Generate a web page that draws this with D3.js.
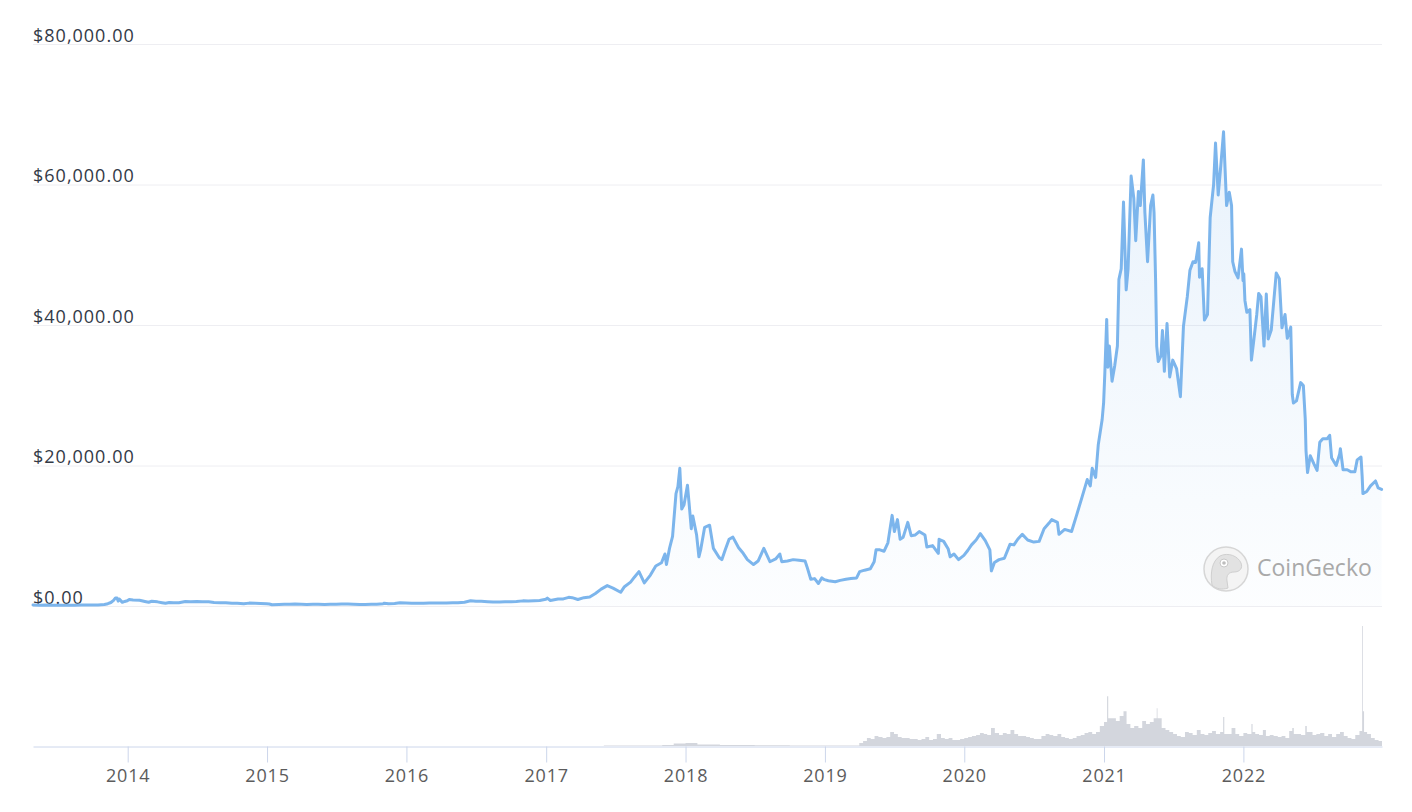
<!DOCTYPE html>
<html>
<head>
<meta charset="utf-8">
<script src="https://cdn.jsdelivr.net/npm/d3@7"></script>
<style>
  body { margin: 0; background: #fff; }
  svg { display: block; }
  svg text { font-family: "Open Sans", "Noto Sans", sans-serif; }
  .grid line { stroke: #eeeef2; }
  .grid .domain { display: none; }
  .ylab text { fill: #333a47; font-size: 18px; letter-spacing: 1px; }
  .xaxis .domain { stroke: #ccd6eb; }
  .xaxis line { stroke: #ccd6eb; }
  .xaxis text { fill: #5c5c5c; font-size: 18px; letter-spacing: 0.8px; }
</style>
</head>
<body>
<div id="chart"></div>
<script>
"use strict";
// btc price (usd)
var pricePoints = [
  ["2013-04-28", 135], ["2013-05-15", 115], ["2013-06-01", 129], ["2013-06-15", 100], ["2013-07-01", 90],
  ["2013-07-15", 98], ["2013-08-01", 106], ["2013-08-15", 98], ["2013-09-01", 140], ["2013-09-15", 126],
  ["2013-10-01", 125], ["2013-10-15", 148], ["2013-11-01", 205], ["2013-11-10", 330], ["2013-11-18", 500],
  ["2013-11-25", 800], ["2013-11-30", 1150], ["2013-12-04", 1140], ["2013-12-07", 700], ["2013-12-10", 980],
  ["2013-12-18", 520], ["2013-12-24", 650], ["2013-12-31", 750],
  ["2014-01-05", 930], ["2014-01-15", 850], ["2014-02-01", 830], ["2014-02-15", 650], ["2014-02-25", 530],
  ["2014-03-05", 670], ["2014-03-20", 590], ["2014-04-01", 470], ["2014-04-10", 380], ["2014-04-20", 500],
  ["2014-05-01", 450], ["2014-05-15", 450], ["2014-06-01", 630], ["2014-06-15", 590], ["2014-07-01", 640],
  ["2014-07-15", 620], ["2014-08-01", 590], ["2014-08-15", 500], ["2014-09-01", 480], ["2014-09-15", 470],
  ["2014-10-01", 380], ["2014-10-15", 390], ["2014-11-01", 320], ["2014-11-15", 410], ["2014-12-01", 380],
  ["2014-12-15", 350], ["2014-12-31", 320],
  ["2015-01-07", 290], ["2015-01-14", 180], ["2015-02-01", 230], ["2015-02-15", 240], ["2015-03-01", 260],
  ["2015-03-15", 285], ["2015-04-01", 245], ["2015-04-15", 220], ["2015-05-01", 235], ["2015-05-15", 237],
  ["2015-06-01", 225], ["2015-06-15", 236], ["2015-07-01", 260], ["2015-07-15", 285], ["2015-08-01", 280],
  ["2015-08-15", 260], ["2015-09-01", 230], ["2015-09-15", 230], ["2015-10-01", 237], ["2015-10-15", 255],
  ["2015-11-01", 315], ["2015-11-04", 400], ["2015-11-15", 330], ["2015-12-01", 360], ["2015-12-15", 450],
  ["2015-12-31", 430],
  ["2016-01-15", 390], ["2016-02-01", 375], ["2016-02-15", 405], ["2016-03-01", 430], ["2016-03-15", 415],
  ["2016-04-01", 415], ["2016-04-15", 430], ["2016-05-01", 450], ["2016-05-15", 455], ["2016-06-01", 535],
  ["2016-06-17", 750], ["2016-07-01", 675], ["2016-07-15", 665], ["2016-08-01", 620], ["2016-08-15", 570],
  ["2016-09-01", 575], ["2016-09-15", 608], ["2016-10-01", 610], ["2016-10-15", 640], ["2016-11-01", 730],
  ["2016-11-15", 710], ["2016-12-01", 750], ["2016-12-15", 780], ["2016-12-31", 960],
  ["2017-01-04", 1130], ["2017-01-12", 780], ["2017-02-01", 990], ["2017-02-15", 1010], ["2017-03-01", 1230],
  ["2017-03-10", 1190], ["2017-03-25", 930], ["2017-04-10", 1190], ["2017-04-25", 1280], ["2017-05-10", 1780],
  ["2017-05-25", 2400], ["2017-06-10", 2900], ["2017-06-25", 2550], ["2017-07-15", 1950], ["2017-07-25", 2750],
  ["2017-08-10", 3400], ["2017-08-20", 4100], ["2017-09-01", 4900], ["2017-09-15", 3300], ["2017-10-01", 4400],
  ["2017-10-15", 5700], ["2017-10-30", 6150], ["2017-11-08", 7400], ["2017-11-12", 5900], ["2017-11-20", 8200],
  ["2017-11-28", 9900], ["2017-12-07", 16000], ["2017-12-12", 17000], ["2017-12-17", 19600], ["2017-12-22", 13800],
  ["2017-12-28", 14400],
  ["2018-01-06", 17200], ["2018-01-10", 14800], ["2018-01-16", 11000], ["2018-01-20", 12800], ["2018-01-30", 10100],
  ["2018-02-05", 7000], ["2018-02-10", 8100], ["2018-02-20", 11200], ["2018-03-05", 11500], ["2018-03-15", 8200],
  ["2018-03-30", 6900], ["2018-04-06", 6600], ["2018-04-15", 8000], ["2018-04-25", 9500], ["2018-05-05", 9800],
  ["2018-05-20", 8300], ["2018-06-01", 7500], ["2018-06-12", 6600], ["2018-06-28", 5900], ["2018-07-10", 6400],
  ["2018-07-25", 8200], ["2018-08-10", 6300], ["2018-08-25", 6700], ["2018-09-05", 7400], ["2018-09-10", 6300],
  ["2018-09-25", 6400], ["2018-10-10", 6600], ["2018-10-25", 6500], ["2018-11-10", 6400], ["2018-11-15", 5600],
  ["2018-11-25", 3800], ["2018-12-05", 3900], ["2018-12-15", 3200], ["2018-12-24", 4000], ["2018-12-31", 3750],
  ["2019-01-10", 3600], ["2019-01-28", 3450], ["2019-02-10", 3650], ["2019-02-25", 3800], ["2019-03-10", 3900],
  ["2019-03-25", 4000], ["2019-04-02", 4900], ["2019-04-15", 5100], ["2019-04-30", 5300], ["2019-05-10", 6300],
  ["2019-05-15", 8000], ["2019-05-25", 8000], ["2019-06-05", 7800], ["2019-06-15", 9000], ["2019-06-26", 12900],
  ["2019-07-02", 10600], ["2019-07-10", 12300], ["2019-07-17", 9500], ["2019-07-25", 9800], ["2019-08-06", 11900],
  ["2019-08-15", 10000], ["2019-08-25", 10100], ["2019-09-05", 10600], ["2019-09-20", 10100], ["2019-09-25", 8400],
  ["2019-10-10", 8600], ["2019-10-25", 7500], ["2019-10-27", 9500], ["2019-11-08", 9200], ["2019-11-20", 8100],
  ["2019-11-25", 7000], ["2019-12-05", 7400], ["2019-12-17", 6600], ["2019-12-31", 7200],
  ["2020-01-10", 7900], ["2020-01-20", 8700], ["2020-02-01", 9400], ["2020-02-12", 10300], ["2020-02-25", 9300],
  ["2020-03-08", 8000], ["2020-03-12", 5000], ["2020-03-20", 6200], ["2020-04-01", 6600], ["2020-04-15", 6800],
  ["2020-04-30", 8800], ["2020-05-10", 8700], ["2020-05-20", 9500], ["2020-06-01", 10200], ["2020-06-15", 9400],
  ["2020-07-01", 9100], ["2020-07-15", 9200], ["2020-07-28", 11000], ["2020-08-10", 11800], ["2020-08-17", 12300],
  ["2020-09-01", 11900], ["2020-09-05", 10200], ["2020-09-20", 10900], ["2020-10-08", 10600], ["2020-10-21", 12900],
  ["2020-11-05", 15600], ["2020-11-18", 18000], ["2020-11-26", 17100], ["2020-12-01", 19600], ["2020-12-10", 18300],
  ["2020-12-17", 23000], ["2020-12-27", 26500], ["2020-12-31", 29000],
  ["2021-01-03", 33000], ["2021-01-08", 40800], ["2021-01-11", 34000], ["2021-01-15", 37000], ["2021-01-22", 32000],
  ["2021-01-29", 34200], ["2021-02-05", 37000], ["2021-02-09", 46500], ["2021-02-15", 48000], ["2021-02-21", 57500],
  ["2021-02-28", 45000], ["2021-03-05", 48000], ["2021-03-13", 61200], ["2021-03-20", 58000], ["2021-03-25", 52000],
  ["2021-04-01", 59000], ["2021-04-06", 57000], ["2021-04-14", 63500], ["2021-04-18", 56000], ["2021-04-25", 49000],
  ["2021-05-03", 57000], ["2021-05-09", 58500], ["2021-05-12", 56000], ["2021-05-16", 46500], ["2021-05-19", 37000],
  ["2021-05-23", 34800], ["2021-05-30", 35600], ["2021-06-03", 39200], ["2021-06-08", 33400], ["2021-06-15", 40200],
  ["2021-06-22", 32600], ["2021-06-30", 35000], ["2021-07-10", 33800], ["2021-07-20", 29800], ["2021-07-28", 39800],
  ["2021-08-07", 44000], ["2021-08-14", 47800], ["2021-08-22", 49000], ["2021-08-29", 48900], ["2021-09-06", 51700],
  ["2021-09-08", 46800], ["2021-09-15", 48000], ["2021-09-21", 40700], ["2021-09-29", 41500], ["2021-10-06", 55300],
  ["2021-10-15", 60000], ["2021-10-20", 65900], ["2021-10-27", 58500], ["2021-11-03", 62800], ["2021-11-10", 67500],
  ["2021-11-18", 57000], ["2021-11-25", 58900], ["2021-12-01", 57000], ["2021-12-04", 49000], ["2021-12-10", 47600],
  ["2021-12-18", 46700], ["2021-12-27", 50800], ["2021-12-31", 46300],
  ["2022-01-02", 47300], ["2022-01-05", 43500], ["2022-01-10", 41800], ["2022-01-18", 42200], ["2022-01-22", 35000],
  ["2022-01-28", 37700], ["2022-02-05", 41500], ["2022-02-10", 44500], ["2022-02-16", 44000], ["2022-02-24", 37000],
  ["2022-03-02", 44400], ["2022-03-07", 38000], ["2022-03-15", 39300], ["2022-03-28", 47400], ["2022-04-05", 46600],
  ["2022-04-12", 39600], ["2022-04-20", 41500], ["2022-04-26", 38100], ["2022-05-05", 39700], ["2022-05-09", 30100],
  ["2022-05-12", 28900], ["2022-05-20", 29200], ["2022-05-31", 31800], ["2022-06-07", 31400], ["2022-06-12", 26600],
  ["2022-06-14", 22100], ["2022-06-18", 19000], ["2022-06-25", 21400], ["2022-07-05", 20200], ["2022-07-13", 19300],
  ["2022-07-20", 23300], ["2022-07-28", 23800], ["2022-08-08", 23800], ["2022-08-15", 24300], ["2022-08-20", 21100],
  ["2022-09-01", 20000], ["2022-09-10", 21600], ["2022-09-12", 22400], ["2022-09-19", 19400], ["2022-09-30", 19400],
  ["2022-10-10", 19100], ["2022-10-20", 19100], ["2022-10-26", 20800], ["2022-11-05", 21200], ["2022-11-08", 18500],
  ["2022-11-10", 16000], ["2022-11-20", 16300], ["2022-11-30", 17100], ["2022-12-13", 17800], ["2022-12-20", 16800],
  ["2022-12-29", 16600]
];

// total volume (billion usd), rough reading of the grey band
var volumePoints = [
  ["2013-04-28", 0.5], ["2016-12-31", 1], ["2017-06-01", 4], ["2017-11-01", 8], ["2017-12-01", 20],
  ["2018-01-01", 25], ["2018-02-01", 12], ["2018-04-01", 8], ["2018-07-01", 6], ["2018-10-01", 5],
  ["2019-01-01", 5],
  ["2019-04-01", 25], ["2019-04-11", 42], ["2019-04-21", 66], ["2019-05-01", 58], ["2019-05-11", 83],
  ["2019-05-21", 75], ["2019-06-01", 66], ["2019-06-11", 75], ["2019-06-21", 116], ["2019-07-01", 100],
  ["2019-07-11", 75], ["2019-07-21", 66], ["2019-08-01", 66], ["2019-08-11", 58], ["2019-08-21", 58],
  ["2019-09-01", 50], ["2019-09-11", 58], ["2019-09-21", 75], ["2019-10-01", 50], ["2019-10-11", 58],
  ["2019-10-21", 100], ["2019-11-01", 66], ["2019-11-11", 58], ["2019-11-21", 66], ["2019-12-01", 50],
  ["2019-12-11", 50], ["2019-12-21", 58],
  ["2020-01-01", 66], ["2020-01-11", 75], ["2020-01-21", 83], ["2020-02-01", 91], ["2020-02-11", 108],
  ["2020-02-21", 100], ["2020-03-01", 91], ["2020-03-11", 150], ["2020-03-21", 108], ["2020-04-01", 91],
  ["2020-04-11", 108], ["2020-04-21", 100], ["2020-05-01", 133], ["2020-05-11", 100], ["2020-05-21", 83],
  ["2020-06-01", 83], ["2020-06-11", 75], ["2020-06-21", 66], ["2020-07-01", 58], ["2020-07-11", 58],
  ["2020-07-21", 83], ["2020-08-01", 100], ["2020-08-11", 91], ["2020-08-21", 83], ["2020-09-01", 100],
  ["2020-09-11", 75], ["2020-09-21", 66], ["2020-10-01", 58], ["2020-10-11", 66], ["2020-10-21", 83],
  ["2020-11-01", 91], ["2020-11-11", 108], ["2020-11-21", 116], ["2020-12-01", 100], ["2020-12-11", 116],
  ["2020-12-21", 166],
  ["2021-01-01", 200], ["2021-01-09", 415], ["2021-01-12", 232], ["2021-01-21", 232], ["2021-02-01", 208],
  ["2021-02-11", 249], ["2021-02-21", 290], ["2021-03-01", 183], ["2021-03-11", 150], ["2021-03-21", 166],
  ["2021-04-01", 150], ["2021-04-11", 208], ["2021-04-21", 183], ["2021-05-01", 200], ["2021-05-11", 232],
  ["2021-05-19", 315], ["2021-05-21", 232], ["2021-06-01", 150], ["2021-06-11", 133], ["2021-06-21", 116],
  ["2021-07-01", 100], ["2021-07-11", 83], ["2021-07-21", 75], ["2021-08-01", 116], ["2021-08-11", 108],
  ["2021-08-21", 91], ["2021-09-01", 133], ["2021-09-11", 100], ["2021-09-21", 91], ["2021-10-01", 108],
  ["2021-10-11", 125], ["2021-10-21", 100], ["2021-11-01", 116], ["2021-11-09", 241], ["2021-11-12", 100],
  ["2021-11-21", 100], ["2021-12-01", 150], ["2021-12-11", 100], ["2021-12-21", 83],
  ["2022-01-01", 108], ["2022-01-11", 100], ["2022-01-22", 183], ["2022-01-25", 116], ["2022-02-01", 100],
  ["2022-02-11", 91], ["2022-02-21", 133], ["2022-03-01", 83], ["2022-03-11", 91], ["2022-03-21", 83],
  ["2022-04-01", 75], ["2022-04-11", 83], ["2022-04-21", 66], ["2022-05-01", 125], ["2022-05-09", 150],
  ["2022-05-13", 100], ["2022-05-21", 100], ["2022-06-01", 91], ["2022-06-12", 166], ["2022-06-16", 116],
  ["2022-06-21", 116], ["2022-07-01", 91], ["2022-07-11", 100], ["2022-07-21", 108], ["2022-08-01", 83],
  ["2022-08-11", 100], ["2022-08-21", 75], ["2022-09-01", 100], ["2022-09-11", 116], ["2022-09-21", 83],
  ["2022-10-01", 66], ["2022-10-11", 58], ["2022-10-21", 91], ["2022-11-01", 125], ["2022-11-08", 1000],
  ["2022-11-10", 290], ["2022-11-13", 116], ["2022-11-21", 100], ["2022-12-01", 66], ["2022-12-11", 50],
  ["2022-12-21", 42], ["2022-12-30", 42]
];

var yTicks = [0, 20000, 40000, 60000, 80000];
var xTickYears = [2014, 2015, 2016, 2017, 2018, 2019, 2020, 2021, 2022];

var w = 1412, h = 812;
var left = 33, right = 1382;
var parse = d3.utcParse("%Y-%m-%d");

var price = pricePoints.map(function(d) { return { date: parse(d[0]), value: d[1] }; });
var volume = volumePoints.map(function(d) { return { date: parse(d[0]), value: d[1] }; });

var svg = d3.select("#chart").append("svg")
  .attr("width", w)
  .attr("height", h);

var x = d3.scaleUtc()
  .domain([parse("2013-04-28"), parse("2022-12-30")])
  .range([left, right]);

var y = d3.scaleLinear().domain([0, 80000]).range([606, 44]);

var yVol = d3.scaleLinear()
  .domain([0, d3.max(volume, function(d) { return d.value; })])
  .range([746, 626]);

//gradient under the price line
var grad = svg.append("defs").append("linearGradient")
  .attr("id", "fillGrad")
  .attr("gradientUnits", "userSpaceOnUse")
  .attr("x1", 0).attr("x2", 0)
  .attr("y1", 44).attr("y2", 606);
grad.append("stop").attr("offset", "0%").attr("stop-color", "#7cb5ec").attr("stop-opacity", 0.2);
grad.append("stop").attr("offset", "100%").attr("stop-color", "#7cb5ec").attr("stop-opacity", 0.02);

//grid + y labels
var yAxis = d3.axisRight(y)
  .tickValues(yTicks)
  .tickSize(right - left)
  .tickFormat(function(d) { return "$" + d3.format(",.2f")(d); });

var gy = svg.append("g")
  .attr("class", "grid ylab")
  .attr("transform", "translate(" + left + ",0)")
  .call(yAxis);
gy.selectAll("text")
  .attr("x", 0)
  .attr("dy", -3)
  .attr("text-anchor", "start");

//volume band
var volArea = d3.area()
  .curve(d3.curveStepAfter)
  .x(function(d) { return x(d.date); })
  .y0(yVol(0))
  .y1(function(d) { return yVol(d.value); });

svg.append("path")
  .datum(volume)
  .attr("d", volArea)
  .attr("fill", "#d3d6dd");

//x axis
var xAxis = d3.axisBottom(x)
  .tickValues(xTickYears.map(function(yr) { return new Date(Date.UTC(yr, 0, 1)); }))
  .tickSize(16)
  .tickSizeOuter(0)
  .tickFormat(d3.utcFormat("%Y"));

var gx = svg.append("g")
  .attr("class", "xaxis")
  .attr("transform", "translate(0,746.5)")
  .call(xAxis);
gx.selectAll("text").attr("y", 35).attr("dy", 0);

//price area + line
var area = d3.area()
  .x(function(d) { return x(d.date); })
  .y0(y(0))
  .y1(function(d) { return y(d.value); });

var line = d3.line()
  .x(function(d) { return x(d.date); })
  .y(function(d) { return y(d.value); });

svg.append("path")
  .datum(price)
  .attr("d", area)
  .attr("fill", "url(#fillGrad)");

svg.append("path")
  .datum(price)
  .attr("d", line)
  .attr("fill", "none")
  .attr("stroke", "#7cb5ec")
  .attr("stroke-width", 3)
  .attr("stroke-linejoin", "round")
  .attr("stroke-linecap", "round");

//watermark
var wm = svg.append("g").attr("transform", "translate(1226,569)");
wm.append("circle").attr("r", 22).attr("fill", "#f4f4f4").attr("stroke", "#d6d6d6").attr("stroke-width", 1.5);
wm.append("path")
  .attr("d", "M-14,16 C-16,4 -14,-8 -6,-13 C2,-17 12,-13 15,-6 C17,-1 14,3 8,3 C3,3 0,6 1,12 L2,19 C-4,21 -10,20 -14,16 Z")
  .attr("fill", "#e2e2e2").attr("stroke", "#cfcfcf").attr("stroke-width", 1);
wm.append("circle").attr("cx", -2).attr("cy", -6).attr("r", 4).attr("fill", "#fff").attr("stroke", "#c8c8c8");
wm.append("circle").attr("cx", -2).attr("cy", -6).attr("r", 1.8).attr("fill", "#bdbdbd");
svg.append("text")
  .attr("x", 1257).attr("y", 576)
  .attr("fill", "#a9a9a9")
  .style("font-size", "23px")
  .text("CoinGecko");
</script>
</body>
</html>
